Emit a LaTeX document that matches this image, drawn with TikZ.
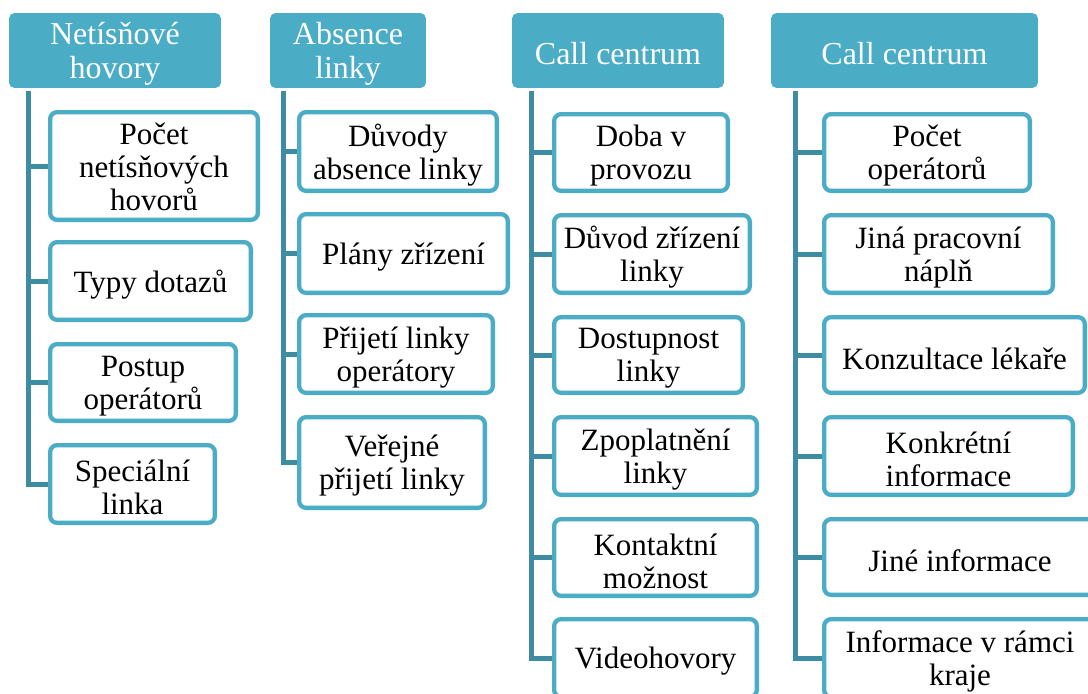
\documentclass[tikz,border=0pt]{standalone}
\usepackage{fontspec}
\setmainfont{Liberation Serif}
\definecolor{accent}{RGB}{75,172,198}
\definecolor{trunkcol}{RGB}{62,140,162}
\tikzset{
  x=1pt, y=-1pt,
  header/.style={fill=accent, draw=accent, line width=0.8pt, rounded corners=5pt,
    inner sep=0pt},
  headertext/.style={text=white, align=center, inner sep=0pt,
    font=\fontsize{32}{34}\selectfont},
  topic/.style={fill=white, draw=accent, line width=4.3pt, rounded corners=7pt,
    inner sep=0pt},
  topictext/.style={text=black, align=center, inner sep=0pt,
    font=\fontsize{31}{33}\selectfont},
  trunk/.style={draw=trunkcol, line width=5pt, line join=miter},
}
% heading: name, centre x, centre y, width, text
\newcommand\headbox[5]{%
  \node[header, minimum width=#4pt, minimum height=74pt] (#1) at (#2,#3) {};
  \node[headertext] (#1t) at ([yshift=-3.5pt]#1.center) {#5};}
% topic box: name, centre x, centre y, outer width, outer height, text shift, text
\newcommand\topicbox[7]{%
  \node[topic, minimum width=#4pt-4.3pt, minimum height=#5pt-4.3pt] (#1) at (#2,#3) {};
  \node[topictext] (#1t) at ([yshift=-#6pt]#1.center) {#7};}
\begin{document}
\begin{tikzpicture}
\useasboundingbox (0,0) rectangle (1088,694);

% column headings
\headbox{h1}{115}{50.5}{211}{Netísňové\\hovory}
\headbox{h2}{348}{50.5}{155}{Absence\\linky}
\headbox{h3}{618}{50.5}{211}{Call centrum}
\headbox{h4}{904.5}{50.5}{266}{Call centrum}

% column 1
\topicbox{a1}{154}{166}{212}{112}{0.5}{Počet\\netísňových\\hovorů}
\topicbox{a2}{150.5}{281}{205}{82}{3.5}{Typy dotazů}
\topicbox{a3}{143}{382.5}{190}{81}{3.5}{Postup\\operátorů}
\topicbox{a4}{132.5}{484}{169}{82}{3.5}{Speciální\\linka}

% column 2
\topicbox{b1}{398}{151.5}{202}{83}{3.5}{Důvody\\absence linky}
\topicbox{b2}{403.5}{253.5}{213}{83}{3.5}{Plány zřízení}
\topicbox{b3}{396}{354}{198}{82}{3.5}{Přijetí linky\\operátory}
\topicbox{b4}{392}{462.5}{190}{95}{3.5}{Veřejné\\přijetí linky}

% column 3
\topicbox{d1}{641}{152.5}{178}{81}{3.5}{Doba v\\provozu}
\topicbox{d2}{652}{254}{200}{82}{3.5}{Důvod zřízení\\linky}
\topicbox{d3}{648.5}{355}{193}{80}{3.5}{Dostupnost\\linky}
\topicbox{d4}{655.5}{456}{207}{82}{3.5}{Zpoplatnění\\linky}
\topicbox{d5}{655.5}{557.5}{207}{81}{3.5}{Kontaktní\\možnost}
\topicbox{d6}{655.5}{658}{207}{82}{3.5}{Videohovory}

% column 4
\topicbox{e1}{927}{152.5}{210}{81}{3.5}{Počet\\operátorů}
\topicbox{e2}{938.5}{254}{233}{82}{3.5}{Jiná pracovní\\náplň}
\topicbox{e3}{954.5}{355}{265}{80}{3.5}{Konzultace lékaře}
\topicbox{e4}{948.5}{456}{253}{82}{3.5}{Konkrétní\\informace}
\topicbox{e5}{960}{557}{276}{80}{3.5}{Jiné informace}
\topicbox{e6}{960}{658}{276}{82}{3.5}{Informace v rámci\\kraje}

% trunk tops just under each heading
\coordinate (t1) at (28,91);
\coordinate (t2) at (283,91);
\coordinate (t3) at (531,91);
\coordinate (t4) at (795,91);

% trunks ending in the last branch
\draw[trunk] (t1) |- (a4.west);
\draw[trunk] (t2) |- (b4.west);
\draw[trunk] (t3) |- (d6.west);
\draw[trunk] (t4) |- (e6.west);

% branches
\foreach \n in {a1,a2,a3} \draw[trunk] (t1 |- \n.west) -- (\n.west);
\foreach \n in {b1,b2,b3} \draw[trunk] (t2 |- \n.west) -- (\n.west);
\foreach \n in {d1,d2,d3,d4,d5} \draw[trunk] (t3 |- \n.west) -- (\n.west);
\foreach \n in {e1,e2,e3,e4,e5} \draw[trunk] (t4 |- \n.west) -- (\n.west);
\end{tikzpicture}
\end{document}
